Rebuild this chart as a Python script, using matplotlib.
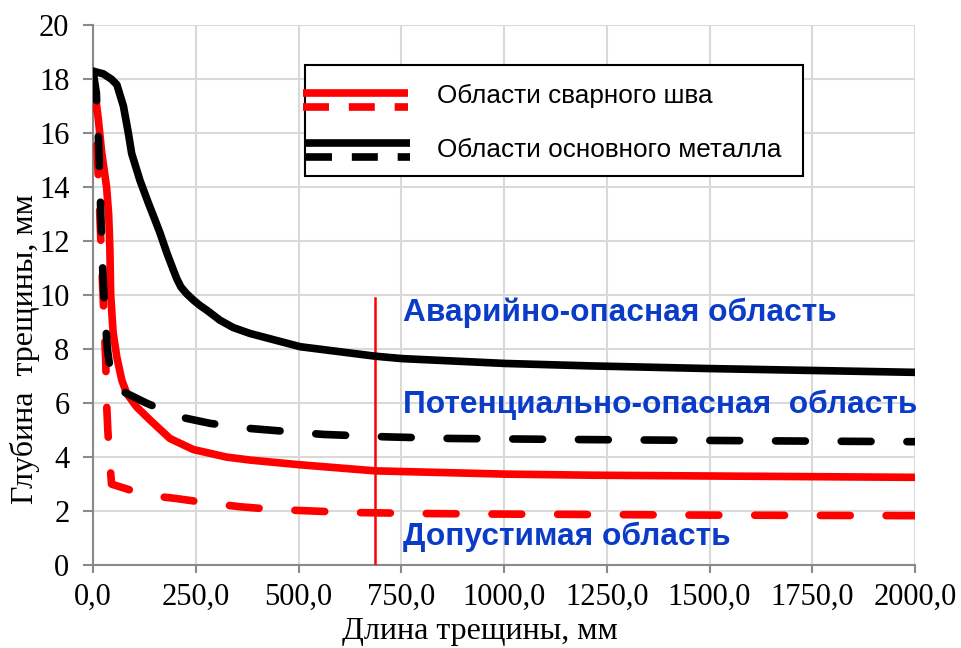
import matplotlib.pyplot as plt
from matplotlib.patches import Rectangle

# base metal (black)
base_x = [0, 25, 45, 58, 66, 74, 86, 94, 114, 135, 151, 163, 180, 195, 204, 214, 228, 244, 260,
          277, 309, 341, 382, 504, 686, 751, 1002, 1209, 1501, 2000]
base_y = [18.3, 18.2, 18.0, 17.8, 17.4, 17.0, 16.0, 15.25, 14.26, 13.4, 12.78, 12.3, 11.55, 10.95,
          10.6, 10.3, 10.05, 9.82, 9.62, 9.44, 9.07, 8.8, 8.58, 8.09, 7.74, 7.65, 7.47, 7.38,
          7.28, 7.14]
base_dash_x = [0, 8, 14, 18, 22, 28, 35, 42, 55, 66, 130, 207, 285, 382, 560, 714, 869, 1031,
               1185, 1663, 2000]
base_dash_y = [18.3, 17.5, 15.5, 13.5, 11.5, 9.5, 8.0, 7.2, 6.6, 6.48, 6.0, 5.5, 5.25, 5.06,
               4.84, 4.75, 4.69, 4.67, 4.65, 4.6, 4.57]

# weld seam (red)
weld_x = [0, 5, 13, 21, 33, 38, 41, 43, 49, 58, 70, 82, 106, 139, 187, 244, 325, 382, 500, 686,
          1002, 1209, 1500, 2000]
weld_y = [18.1, 17.5, 16.5, 15.3, 14.0, 13.0, 11.7, 10.0, 8.6, 7.7, 6.85, 6.36, 5.86, 5.37, 4.69,
          4.28, 4.0, 3.89, 3.72, 3.49, 3.37, 3.33, 3.3, 3.25]
weld_dash_x = [0, 8, 14, 19, 23, 27, 31, 33, 36, 40, 45, 55, 130, 200, 285, 358, 440, 620, 800,
               960, 1130, 1500, 2000]
weld_dash_y = [18.0, 16.0, 14.0, 12.0, 10.5, 9.0, 7.5, 6.0, 5.0, 4.0, 3.0, 2.95, 2.59, 2.47,
               2.29, 2.16, 2.06, 1.95, 1.91, 1.89, 1.88, 1.85, 1.83]

boundary_x = 686
boundary_top = 9.9

x_ticks = [0, 250, 500, 750, 1000, 1250, 1500, 1750, 2000]
y_ticks = [0, 2, 4, 6, 8, 10, 12, 14, 16, 18, 20]

zones = ['Аварийно-опасная область', 'Потенциально-опасная  область', 'Допустимая область']
zone_y = [9.33, 5.93, 1.04]
legend_labels = ['Области сварного шва', 'Области основного металла']

serif = ['Liberation Serif', 'DejaVu Serif']
sans = ['Liberation Sans', 'DejaVu Sans']

fig = plt.figure(figsize=(9.61, 6.48), dpi=100)
ax = fig.add_axes([0.0968, 0.128, 0.8554, 0.833])

lw = 5.5
dash = (3.9, 4.7)
ax.plot(base_x, base_y, color='black', lw=lw, solid_joinstyle='round', solid_capstyle='butt', zorder=4)
ax.plot(base_dash_x, base_dash_y, color='black', lw=lw, dashes=dash, dash_capstyle='round', zorder=4)
ax.plot(weld_x, weld_y, color='#ff0000', lw=lw, solid_joinstyle='round', solid_capstyle='butt', zorder=3)
ax.plot(weld_dash_x, weld_dash_y, color='#ff0000', lw=lw, dashes=dash, dash_capstyle='round', zorder=3)
ax.plot([boundary_x, boundary_x], [0, boundary_top], color='#ff0000', lw=1.8, zorder=3)

for txt, y in zip(zones, zone_y):
    ax.text(754, y, txt, color='#0a3cc8', fontsize=22.8, fontweight='bold',
            family=sans, va='center', ha='left', zorder=5)

ax.set_xlim(0, 2000)
ax.set_ylim(0, 20)
ax.set_xticks(x_ticks)
ax.set_xticklabels([f'{v:.1f}'.replace('.', ',') for v in x_ticks], family=serif, fontsize=22)
ax.set_yticks(y_ticks)
ax.set_yticklabels([str(v) for v in y_ticks], family=serif, fontsize=22)
ax.grid(True, color='#d9d9d9', lw=1.5)
ax.set_axisbelow(True)
for s in ['top', 'right']:
    ax.spines[s].set_visible(False)
for s in ['left', 'bottom']:
    ax.spines[s].set_color('#898989')
    ax.spines[s].set_linewidth(1.5)
ax.tick_params(axis='x', color='#898989', width=1.5, length=6, pad=7)
ax.tick_params(axis='y', color='#898989', width=1.5, length=7, pad=10)

ax.set_xlabel('Длина трещины, мм', family=serif, fontsize=23)
ax.xaxis.set_label_coords(0.471, -0.096)
ax.set_ylabel('Глубина  трещины, мм', family=serif, fontsize=23)
ax.yaxis.set_label_coords(-0.0645, 0.40)

# custom legend: solid + dashed line per entry
tr = ax.transAxes
ax.add_patch(Rectangle((0.2579, 0.7209), 0.6058, 0.2063, transform=tr, facecolor='white',
                       edgecolor='black', lw=1.5, zorder=6))
rows = [(0.8746, 0.8487, 0.2551, 0.3832, 0.8685, '#ff0000', legend_labels[0]),
        (0.7828, 0.7561, 0.2591, 0.3856, 0.7685, 'black', legend_labels[1])]
for ys, yd, x0, x1, yt, c, lab in rows:
    ax.plot([x0, x1], [ys, ys], transform=tr, color=c, lw=lw, solid_capstyle='butt', zorder=7)
    ax.plot([x0, x1], [yd, yd], transform=tr, color=c, lw=lw, dashes=(3.4, 2.6),
            dash_capstyle='butt', zorder=7)
    ax.text(0.4185, yt, lab, transform=tr, family=sans, fontsize=18.8,
            va='center', ha='left', zorder=7)

fig.savefig('out.png', dpi=100)
